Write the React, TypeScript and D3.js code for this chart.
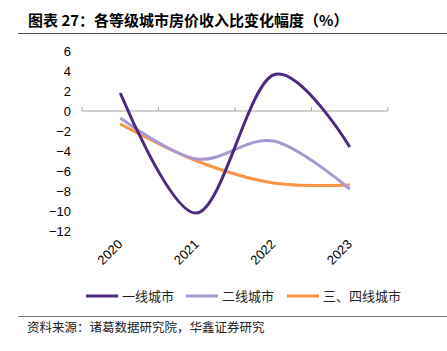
import React, { useEffect, useRef } from 'react'
import * as d3 from 'd3'

const years = ['2020', '2021', '2022', '2023']
const tier1 = [1.8, -10.2, 3.6, -3.6]
const tier2 = [-0.7, -4.8, -3.0, -7.8]
const tier34 = [-1.3, -5.0, -7.2, -7.4]
const yTicks = [6, 4, 2, 0, -2, -4, -6, -8, -10, -12]
const seriesNames = ['一线城市', '二线城市', '三、四线城市']
const colors = ['#4b2a80', '#a899d3', '#f79646']

const W = 447, H = 351
const font = '"Liberation Sans", Arial, sans-serif'
const cjk = '"Noto Sans CJK SC", sans-serif'

export default function App() {
  const ref = useRef<SVGSVGElement>(null)

  useEffect(() => {
    const svg = d3.select(ref.current)
    svg.selectAll('*').remove()

    // title
    svg.append('text')
      .attr('x', 28).attr('y', 26)
      .attr('font-family', cjk).attr('font-weight', 'bold')
      .attr('font-size', 15).attr('fill', '#000')
      .text('图表 27：各等级城市房价收入比变化幅度（%）')
    svg.append('line')
      .attr('x1', 18).attr('x2', W).attr('y1', 33.5).attr('y2', 33.5)
      .attr('stroke', '#555').attr('stroke-width', 1.2)

    const x = d3.scaleBand().domain(years).range([82, 388])
    const y = d3.scaleLinear().domain([-12, 6]).range([231, 51])

    // y labels
    svg.append('g')
      .selectAll('text')
      .data(yTicks)
      .enter()
      .append('text')
      .attr('x', 71)
      .attr('y', d => y(d))
      .attr('dy', '0.36em')
      .attr('text-anchor', 'end')
      .attr('font-family', font).attr('font-size', 13)
      .text(d => (d < 0 ? '\u2212' + Math.abs(d) : String(d)))

    // zero axis line
    const g = svg.append('g')
    g.append('line')
      .attr('x1', 82).attr('x2', 388).attr('y1', y(0)).attr('y2', y(0))
      .attr('stroke', '#a6a6a6').attr('stroke-width', 1)
    const edges = years.map(d => x(d)!).concat([388])
    g.selectAll('.tk')
      .data(edges)
      .enter()
      .append('line')
      .attr('x1', d => d).attr('x2', d => d)
      .attr('y1', y(0)).attr('y2', y(0) - 4)
      .attr('stroke', '#a6a6a6')

    // x labels
    svg.append('g')
      .selectAll('text')
      .data(years)
      .enter()
      .append('text')
      .attr('transform', d => `translate(${x(d)! + x.bandwidth() / 2 + 3},${245}) rotate(-45)`)
      .attr('text-anchor', 'end')
      .attr('font-family', font).attr('font-size', 13)
      .text(d => d)

    const line = d3.line<number>()
      .x((d, i) => x(years[i])! + x.bandwidth() / 2)
      .y(d => y(d))
      .curve(d3.curveCardinal.tension(0))

    const series = [tier1, tier2, tier34]
    // draw order: tier1 under? keep tier1 on top
    ;[2, 1, 0].forEach(i => {
      svg.append('path')
        .attr('d', line(series[i])!)
        .attr('fill', 'none')
        .attr('stroke', colors[i])
        .attr('stroke-width', 3)
        .attr('stroke-linecap', 'butt')
    })

    // legend
    const legX = [86, 186, 287]
    seriesNames.forEach((name, i) => {
      svg.append('line')
        .attr('x1', legX[i]).attr('x2', legX[i] + 32)
        .attr('y1', 296).attr('y2', 296)
        .attr('stroke', colors[i]).attr('stroke-width', 3)
      svg.append('text')
        .attr('x', legX[i] + 36).attr('y', 296).attr('dy', '0.36em')
        .attr('font-family', cjk).attr('font-size', 13).attr('fill', '#222')
        .text(name)
    })

    svg.append('line')
      .attr('x1', 18).attr('x2', W).attr('y1', 316.5).attr('y2', 316.5)
      .attr('stroke', '#777').attr('stroke-width', 1.2)
    svg.append('text')
      .attr('x', 27).attr('y', 332)
      .attr('font-family', cjk).attr('font-size', 12.5).attr('fill', '#222')
      .text('资料来源：诸葛数据研究院，华鑫证券研究')
  }, [])

  return (
    <svg ref={ref} width={W} height={H}
      style={{ position: 'absolute', left: 0, top: 0, background: '#fff' }} />
  )
}
